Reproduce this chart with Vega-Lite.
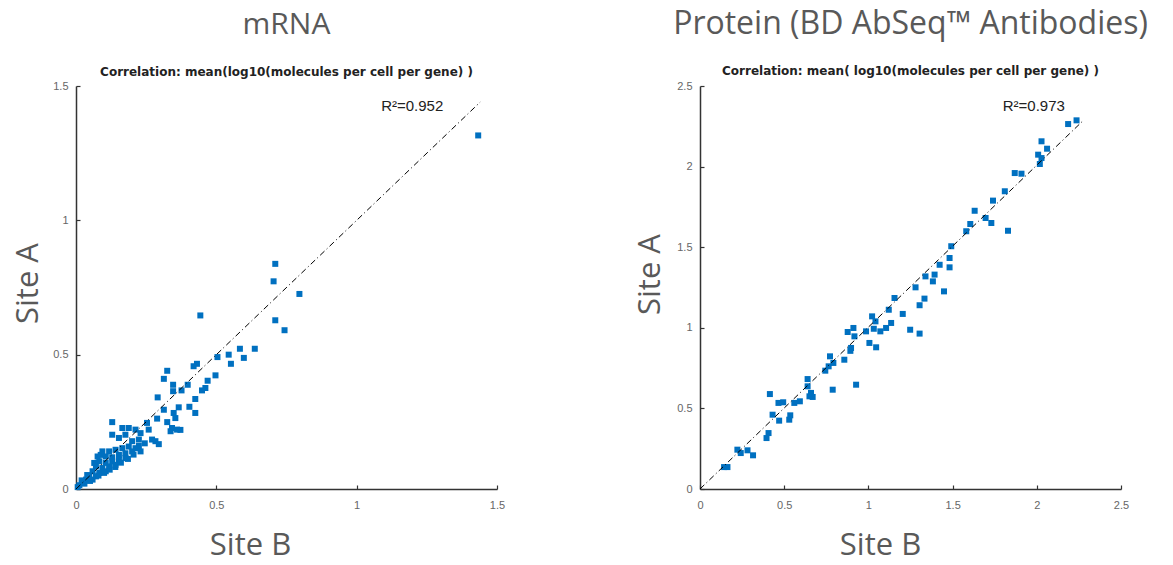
{
  "$schema": "https://vega.github.io/schema/vega-lite/v6.json",
  "background": "white",
  "padding": {"left": 12, "top": 8, "right": 5, "bottom": 25},
  "bounds": "flush",
  "spacing": 203,
  "config": {
    "view": {"stroke": null},
    "axis": {
      "domainColor": "#333333", "domainWidth": 1.5, "tickColor": "#333333", "tickSize": -4, "tickWidth": 1.2,
      "grid": false, "labelFont": "Liberation Sans", "labelFontSize": 11, "labelColor": "#666666",
      "labelFlush": false, "labelOverlap": false, "format": "~g",
      "titleFont": "Open Sans", "titleFontSize": 31, "titleFontWeight": "normal", "titleColor": "#595959",
      "titleBaseline": "middle"
    },
    "axisX": {"labelPadding": 14},
    "axisY": {"labelPadding": 12},
    "title": {
      "font": "Open Sans", "fontSize": 30, "fontWeight": "normal", "color": "#595959",
      "subtitleFont": "DejaVu Sans", "subtitleFontSize": 12, "subtitleFontWeight": "bold",
      "subtitleColor": "#222222", "subtitlePadding": 27, "offset": 2, "anchor": "middle"
    }
  },
  "datasets": {
    "mrna": [
      {"b":0.443,"a":0.646},{"b":0.710,"a":0.628},{"b":0.743,"a":0.591},{"b":0.584,"a":0.522},{"b":0.637,"a":0.522},
      {"b":0.544,"a":0.500},{"b":0.504,"a":0.491},{"b":0.598,"a":0.488},{"b":0.552,"a":0.466},{"b":0.431,"a":0.466},
      {"b":0.419,"a":0.457},{"b":0.325,"a":0.440},{"b":0.313,"a":0.410},{"b":0.497,"a":0.423},{"b":0.469,"a":0.403},
      {"b":0.398,"a":0.388},{"b":0.346,"a":0.388},{"b":0.461,"a":0.376},{"b":0.449,"a":0.367},{"b":0.376,"a":0.367},
      {"b":0.346,"a":0.364},{"b":0.291,"a":0.341},{"b":0.425,"a":0.335},{"b":0.366,"a":0.304},{"b":0.404,"a":0.306},
      {"b":0.348,"a":0.283},{"b":0.425,"a":0.283},{"b":0.313,"a":0.295},{"b":0.289,"a":0.262},{"b":0.354,"a":0.264},
      {"b":0.325,"a":0.249},{"b":0.342,"a":0.227},{"b":0.360,"a":0.221},{"b":0.372,"a":0.220},{"b":0.337,"a":0.215},
      {"b":0.253,"a":0.246},{"b":0.259,"a":0.221},{"b":0.283,"a":0.178},{"b":0.295,"a":0.167},{"b":0.271,"a":0.184},
      {"b":0.129,"a":0.249},{"b":0.165,"a":0.227},{"b":0.188,"a":0.227},{"b":0.212,"a":0.221},{"b":0.129,"a":0.202},
      {"b":0.176,"a":0.202},{"b":0.230,"a":0.208},{"b":0.224,"a":0.184},{"b":0.153,"a":0.190},{"b":0.200,"a":0.178},
      {"b":0.224,"a":0.160},{"b":0.094,"a":0.140},{"b":0.118,"a":0.140},{"b":0.141,"a":0.146},{"b":0.165,"a":0.152},
      {"b":0.188,"a":0.158},{"b":0.106,"a":0.121},{"b":0.129,"a":0.118},{"b":0.153,"a":0.127},{"b":0.176,"a":0.133},
      {"b":0.200,"a":0.140},{"b":0.083,"a":0.103},{"b":0.106,"a":0.097},{"b":0.129,"a":0.103},{"b":0.153,"a":0.109},
      {"b":0.071,"a":0.084},{"b":0.094,"a":0.078},{"b":0.118,"a":0.084},{"b":0.141,"a":0.090},{"b":0.059,"a":0.066},
      {"b":0.083,"a":0.060},{"b":0.106,"a":0.066},{"b":0.047,"a":0.047},{"b":0.071,"a":0.047},{"b":0.036,"a":0.035},
      {"b":0.024,"a":0.022},{"b":0.012,"a":0.014},{"b":0.059,"a":0.035},{"b":0.006,"a":0.007},{"b":0.065,"a":0.097},
      {"b":0.077,"a":0.121},{"b":0.088,"a":0.127},{"b":0.176,"a":0.115},{"b":0.212,"a":0.152},{"b":0.230,"a":0.140},
      {"b":0.030,"a":0.020},{"b":0.050,"a":0.030},{"b":0.080,"a":0.050},{"b":0.100,"a":0.060},{"b":0.120,"a":0.072},
      {"b":0.140,"a":0.082},{"b":0.160,"a":0.098},{"b":0.185,"a":0.112},{"b":0.205,"a":0.128},{"b":0.245,"a":0.170},
      {"b":0.020,"a":0.032},{"b":0.040,"a":0.052},
      {"b":1.433,"a":1.316},{"b":0.710,"a":0.838},{"b":0.704,"a":0.773},{"b":0.796,"a":0.726}
    ],
    "mrnaFit": [{"b":0,"a":0},{"b":1.44,"a":1.44}],
    "mrnaR2": [{"b":1.198,"a":1.425,"label":"R²=0.952"}],
    "protein": [
      {"b":0.143,"a":0.136},{"b":0.163,"a":0.136},{"b":0.222,"a":0.244},{"b":0.242,"a":0.223},{"b":0.282,"a":0.240},
      {"b":0.315,"a":0.209},{"b":0.395,"a":0.316},{"b":0.407,"a":0.347},{"b":0.415,"a":0.589},{"b":0.431,"a":0.461},
      {"b":0.470,"a":0.424},{"b":0.466,"a":0.534},{"b":0.494,"a":0.538},{"b":0.530,"a":0.430},{"b":0.536,"a":0.457},
      {"b":0.560,"a":0.534},{"b":0.593,"a":0.544},{"b":0.639,"a":0.637},{"b":0.639,"a":0.682},{"b":0.659,"a":0.596},
      {"b":0.669,"a":0.571},{"b":0.650,"a":0.575},{"b":0.744,"a":0.734},{"b":0.764,"a":0.761},{"b":0.772,"a":0.823},
      {"b":0.792,"a":0.782},{"b":0.788,"a":0.616},{"b":0.857,"a":0.802},{"b":0.877,"a":0.974},{"b":0.911,"a":0.999},
      {"b":0.897,"a":0.875},{"b":0.893,"a":0.857},{"b":0.917,"a":0.947},{"b":0.927,"a":0.647},{"b":0.986,"a":0.978},
      {"b":1.006,"a":0.906},{"b":1.022,"a":1.071},{"b":1.032,"a":0.994},{"b":1.046,"a":0.879},{"b":1.042,"a":1.040},
      {"b":1.071,"a":0.978},{"b":1.105,"a":0.999},{"b":1.121,"a":1.112},{"b":1.135,"a":1.030},{"b":1.155,"a":1.185},
      {"b":1.204,"a":1.086},{"b":1.248,"a":0.988},{"b":1.304,"a":1.140},{"b":1.304,"a":0.964},{"b":1.333,"a":1.181},
      {"b":2.186,"a":2.264},{"b":2.236,"a":2.287},{"b":2.028,"a":2.157},{"b":2.061,"a":2.111},{"b":2.008,"a":2.074},
      {"b":2.028,"a":2.053},{"b":2.018,"a":2.016},{"b":1.869,"a":1.960},{"b":1.909,"a":1.956},{"b":1.810,"a":1.847},
      {"b":1.740,"a":1.789},{"b":1.829,"a":1.602},{"b":1.631,"a":1.726},{"b":1.696,"a":1.681},{"b":1.730,"a":1.650},
      {"b":1.605,"a":1.644},{"b":1.581,"a":1.599},{"b":1.492,"a":1.506},{"b":1.482,"a":1.433},{"b":1.482,"a":1.375},
      {"b":1.423,"a":1.391},{"b":1.339,"a":1.319},{"b":1.393,"a":1.330},{"b":1.383,"a":1.288},{"b":1.449,"a":1.226},
      {"b":1.280,"a":1.251}
    ],
    "proteinFit": [{"b":0,"a":0},{"b":2.27,"a":2.28}],
    "proteinR2": [{"b":1.982,"a":2.376,"label":"R²=0.973"}]
  },
  "hconcat": [
    {
      "width": 421, "height": 403,
      "title": {"text": "mRNA", "subtitle": "Correlation: mean(log10(molecules per cell per gene) )"},
      "layer": [
        {
          "data": {"name": "mrna"},
          "mark": {"type": "square", "size": 36, "color": "#0070C0", "opacity": 1},
          "encoding": {
            "x": {"field": "b", "type": "quantitative", "scale": {"domain": [0, 1.5], "nice": false},
                  "axis": {"values": [0, 0.5, 1, 1.5], "title": "Site B", "titleX": 174, "titleY": 56}},
            "y": {"field": "a", "type": "quantitative", "scale": {"domain": [0, 1.5], "nice": false},
                  "axis": {"values": [0, 0.5, 1, 1.5], "title": "Site A", "titleX": -48, "titleY": 197}}
          }
        },
        {
          "data": {"name": "mrnaFit"},
          "mark": {"type": "line", "color": "black", "strokeWidth": 1, "strokeDash": [6, 3, 1, 3]},
          "encoding": {"x": {"field": "b", "type": "quantitative"}, "y": {"field": "a", "type": "quantitative"}}
        },
        {
          "data": {"name": "mrnaR2"},
          "mark": {"type": "text", "font": "Liberation Sans", "fontSize": 15, "color": "#222222", "align": "center", "baseline": "middle"},
          "encoding": {"x": {"field": "b", "type": "quantitative"}, "y": {"field": "a", "type": "quantitative"}, "text": {"field": "label"}}
        }
      ]
    },
    {
      "width": 421, "height": 403,
      "title": {"text": "Protein (BD AbSeq™ Antibodies)", "subtitle": "Correlation: mean( log10(molecules per cell per gene) )", "fontSize": 32, "subtitlePadding": 25},
      "layer": [
        {
          "data": {"name": "protein"},
          "mark": {"type": "square", "size": 36, "color": "#0070C0", "opacity": 1},
          "encoding": {
            "x": {"field": "b", "type": "quantitative", "scale": {"domain": [0, 2.5], "nice": false},
                  "axis": {"values": [0, 0.5, 1, 1.5, 2, 2.5], "title": "Site B", "titleX": 180, "titleY": 56}},
            "y": {"field": "a", "type": "quantitative", "scale": {"domain": [0, 2.5], "nice": false},
                  "axis": {"values": [0, 0.5, 1, 1.5, 2, 2.5], "title": "Site A", "titleX": -50, "titleY": 188}}
          }
        },
        {
          "data": {"name": "proteinFit"},
          "mark": {"type": "line", "color": "black", "strokeWidth": 1, "strokeDash": [6, 3, 1, 3]},
          "encoding": {"x": {"field": "b", "type": "quantitative"}, "y": {"field": "a", "type": "quantitative"}}
        },
        {
          "data": {"name": "proteinR2"},
          "mark": {"type": "text", "font": "Liberation Sans", "fontSize": 15, "color": "#222222", "align": "center", "baseline": "middle"},
          "encoding": {"x": {"field": "b", "type": "quantitative"}, "y": {"field": "a", "type": "quantitative"}, "text": {"field": "label"}}
        }
      ]
    }
  ]
}
